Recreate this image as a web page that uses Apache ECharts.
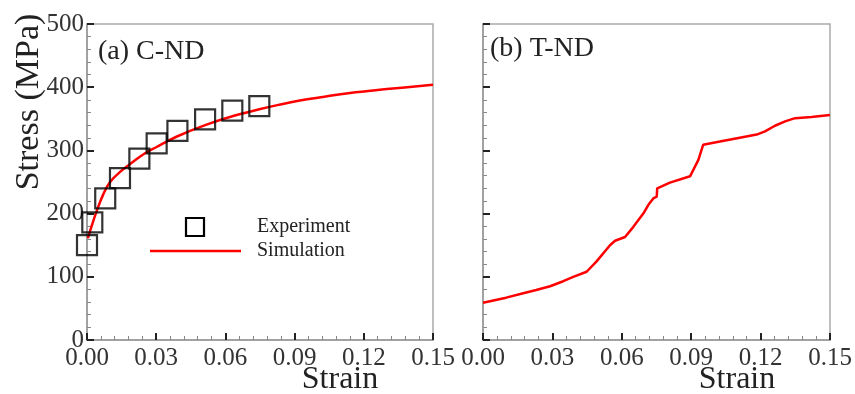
<!DOCTYPE html>
<html><head><meta charset="utf-8">
<script src="https://cdn.jsdelivr.net/npm/echarts@6/dist/echarts.min.js"></script>
<style>html,body{margin:0;padding:0;background:#fff}#c{width:855px;height:394px}</style>
</head><body><div id="c"></div>
<script>
// Panel (a) C-ND: experiment points [strain, stress]
const expStrain = [0.0, 0.0023, 0.0079, 0.0143, 0.0227, 0.0302, 0.0392, 0.0512, 0.063, 0.0747];
const expStress = [150, 186, 224, 256, 287, 311, 331, 349, 363, 370];
// Panel (a) simulation curve
const simAStrain = [0.0004, 0.002, 0.004, 0.007, 0.01, 0.015, 0.02, 0.025, 0.03, 0.039, 0.0512, 0.063, 0.0747, 0.083, 0.0923, 0.103, 0.114, 0.13, 0.15];
const simAStress = [161, 180, 202, 230, 250, 268, 282, 295, 305, 322, 340, 354, 365, 372, 379, 385, 391, 397, 404];
// Panel (b) T-ND simulation curve
const simBStrain = [0.0, 0.01, 0.0174, 0.023, 0.029, 0.0347, 0.039, 0.0448, 0.049, 0.0549, 0.0571, 0.0614, 0.065, 0.0693, 0.0715, 0.0736, 0.0751, 0.0753, 0.0808, 0.0895, 0.0931, 0.0952, 0.1024, 0.111, 0.1183, 0.1219, 0.1262, 0.1306, 0.1349, 0.142, 0.15];
const simBStress = [59, 67, 74, 79, 85, 93, 100, 108, 124, 150, 157, 163, 179, 200, 214, 224, 227, 240, 249, 259, 285, 309, 314, 320, 325, 330, 339, 346, 351, 353, 356];
const xTicks = [0, 0.03, 0.06, 0.09, 0.12, 0.15];
const yTicks = [0, 100, 200, 300, 400, 500];

const zip = (a, b) => a.map((v, i) => [v, b[i]]);
const FONT = '"Liberation Serif", "DejaVu Serif", serif';
const TXT = '#333';

function xAx(idx) {
  return {
    type: 'value', gridIndex: idx, min: xTicks[0], max: xTicks[xTicks.length - 1], interval: 0.03,
    axisLine: { show: true, lineStyle: { color: '#999', width: 1.5 } },
    axisTick: { show: true, inside: true, length: 7, lineStyle: { color: '#222', width: 2 } },
    minorTick: { show: true, splitNumber: 5, length: 4, lineStyle: { color: '#888', width: 1 } },
    splitLine: { show: false },
    axisLabel: { fontFamily: FONT, fontSize: 25, color: TXT, margin: 6, formatter: v => v.toFixed(2) }
  };
}
function yAx(idx, labels) {
  return {
    type: 'value', gridIndex: idx, min: yTicks[0], max: yTicks[yTicks.length - 1], interval: 100,
    axisLine: { show: true, lineStyle: { color: '#999', width: 1.5 } },
    axisTick: { show: true, inside: true, length: 7, lineStyle: { color: '#222', width: 2 } },
    minorTick: { show: true, splitNumber: 5, length: 4, lineStyle: { color: '#888', width: 1 } },
    splitLine: { show: false },
    axisLabel: { show: labels, fontFamily: FONT, fontSize: 25, color: TXT, margin: 3 }
  };
}

const chart = echarts.init(document.getElementById('c'));
chart.setOption({
  animation: false,
  backgroundColor: '#fff',
  grid: [
    { left: 87, top: 24, width: 346, height: 316, show: true, borderColor: '#aaa', borderWidth: 1.5, backgroundColor: 'transparent' },
    { left: 483, top: 24, width: 347, height: 316, show: true, borderColor: '#aaa', borderWidth: 1.5, backgroundColor: 'transparent' }
  ],
  xAxis: [xAx(0), xAx(1)],
  yAxis: [yAx(0, true), yAx(1, false)],
  series: [
    { name: 'Simulation', type: 'line', xAxisIndex: 0, yAxisIndex: 0, data: zip(simAStrain, simAStress), smooth: 0.4, showSymbol: false, lineStyle: { color: '#f00', width: 2.5 }, z: 2 },
    { name: 'Experiment', type: 'scatter', xAxisIndex: 0, yAxisIndex: 0, data: zip(expStrain, expStress), symbol: 'rect', symbolSize: 20, itemStyle: { color: 'transparent', borderColor: '#000', borderWidth: 2.2 }, z: 3 },
    { name: 'SimulationB', type: 'line', xAxisIndex: 1, yAxisIndex: 1, data: zip(simBStrain, simBStress), showSymbol: false, lineStyle: { color: '#f00', width: 2.5 } }
  ],
  graphic: [
    { type: 'text', left: 98, top: 38, style: { text: '(a) C-ND', font: '28px ' + FONT, fill: '#222' } },
    { type: 'text', left: 490, top: 35, style: { text: '(b) T-ND', font: '28px ' + FONT, fill: '#222' } },
    { type: 'text', x: 29, y: 102, rotation: Math.PI / 2, style: { text: 'Stress (MPa)', font: '34px ' + FONT, fill: '#222', align: 'center', verticalAlign: 'middle' } },
    { type: 'text', x: 340, y: 380, style: { text: 'Strain', font: '32px ' + FONT, fill: '#222', align: 'center', verticalAlign: 'middle' } },
    { type: 'text', x: 737, y: 380, style: { text: 'Strain', font: '32px ' + FONT, fill: '#222', align: 'center', verticalAlign: 'middle' } },
    { type: 'rect', shape: { x: 186, y: 218, width: 18, height: 18 }, style: { fill: 'none', stroke: '#000', lineWidth: 2.2 } },
    { type: 'line', shape: { x1: 150, y1: 251, x2: 241, y2: 251 }, style: { stroke: '#f00', lineWidth: 2.5 } },
    { type: 'text', x: 257, y: 227, style: { text: 'Experiment', font: '20px ' + FONT, fill: '#222', verticalAlign: 'middle' } },
    { type: 'text', x: 257, y: 251, style: { text: 'Simulation', font: '20px ' + FONT, fill: '#222', verticalAlign: 'middle' } }
  ]
});
</script></body></html>
